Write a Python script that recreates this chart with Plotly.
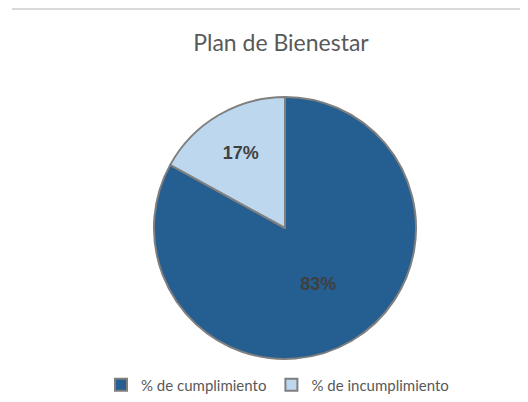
import plotly.graph_objects as go

labels = ["% de cumplimiento", "% de incumplimiento"]
values = [83, 17]
colors = ["#255E91", "#BDD7EE"]
title = "Plan de Bienestar"

W, H = 528, 402
cx, cy, r = 277, 220, 131

fig = go.Figure(go.Pie(
    labels=labels,
    values=values,
    sort=False,
    direction="clockwise",
    rotation=0,
    marker=dict(colors=colors, line=dict(color="#7F7F7F", width=2)),
    textinfo="percent",
    texttemplate="%{percent:.0%}",
    textposition="inside",
    insidetextorientation="horizontal",
    textfont=dict(family="Liberation Sans", size=18, color="#404040", weight="bold"),
    hoverinfo="label+percent",
    domain=dict(x=[(cx - r) / W, (cx + r) / W], y=[1 - (cy + r) / H, 1 - (cy - r) / H]),
))

fig.update_layout(
    width=W, height=H,
    margin=dict(l=0, r=0, t=0, b=0),
    paper_bgcolor="white",
    plot_bgcolor="white",
    title=dict(text=title, x=273 / W, xanchor="center", y=1 - 35 / H, yanchor="middle",
               font=dict(family="Lato", size=23, color="#595959")),
    legend=dict(orientation="h", x=93 / W, xanchor="left", y=1 - 377 / H, yanchor="middle",
                font=dict(family="Lato", size=15, color="#595959"),
                itemwidth=30, tracegroupgap=0),
    shapes=[dict(type="line", xref="paper", yref="paper", x0=4 / W, x1=1, y0=1 - 1 / H, y1=1 - 1 / H,
                 line=dict(color="#D9D9D9", width=2))],
)

fig.write_html("out.html")
